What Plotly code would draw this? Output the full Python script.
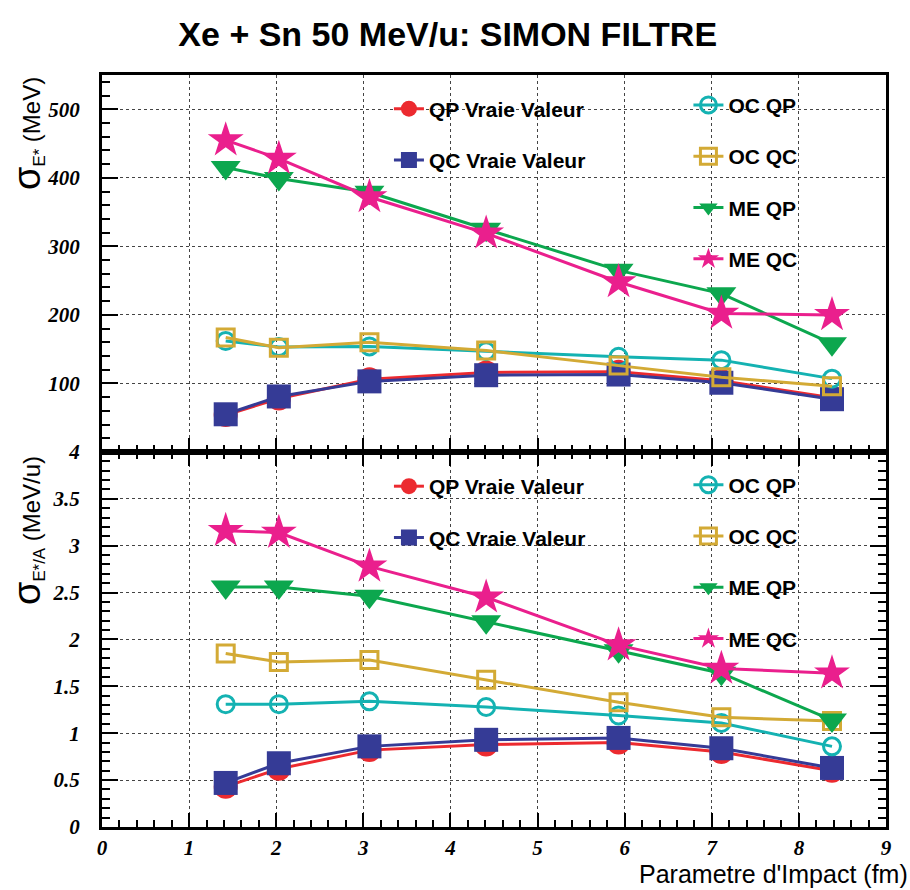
import plotly.graph_objects as go
from plotly.subplots import make_subplots

# impact parameter (fm)
b = [1.42, 2.03, 3.07, 4.41, 5.93, 7.11, 8.38]

# sigma E* (MeV)
qp_top = [54, 78, 106, 116, 117, 104, 79]
qc_top = [55, 81, 103, 112, 113, 101, 77]
ocqp_top = [162, 153, 154, 147, 139, 134, 107]
ocqc_top = [167, 152, 160, 148, 126, 109, 96]
meqp_top = [415, 399, 379, 325, 265, 231, 158]
meqc_top = [455, 428, 372, 319, 248, 202, 200]

# sigma E*/A (MeV/u)
qp_bot = [0.43, 0.62, 0.82, 0.88, 0.90, 0.80, 0.60]
qc_bot = [0.47, 0.68, 0.86, 0.93, 0.95, 0.84, 0.63]
ocqp_bot = [1.31, 1.31, 1.34, 1.28, 1.19, 1.11, 0.86]
ocqc_bot = [1.85, 1.76, 1.78, 1.57, 1.33, 1.17, 1.13]
meqp_bot = [2.56, 2.56, 2.46, 2.19, 1.88, 1.64, 1.14]
meqc_bot = [3.16, 3.14, 2.78, 2.45, 1.94, 1.69, 1.64]

names = ['QP Vraie Valeur', 'QC Vraie Valeur', 'OC QP', 'OC QC', 'ME QP', 'ME QC']
colors = ['#ec2a2f', '#353b96', '#14b2b2', '#d3aa35', '#0ca74e', '#ea1f8d']
symbols = ['circle', 'square', 'circle-open', 'square-open', 'triangle-down', 'star']
sizes = [24, 24, 17, 17, 26, 27]

fig = make_subplots(rows=2, cols=1, shared_xaxes=True, vertical_spacing=0)

def addSeries(row, series, legends):
    for i, ys in enumerate(series):
        fig.add_trace(
            go.Scatter(
                x=b, y=ys,
                mode='lines+markers',
                name=names[i],
                line=dict(color=colors[i], width=3),
                marker=dict(
                    symbol=symbols[i],
                    size=sizes[i],
                    color=colors[i],
                    line=dict(width=3 if 'open' in symbols[i] else 0, color=colors[i])
                ),
                legend=legends[0] if i < 2 else legends[1],
                legendgroup=f'{row}_{i}',
            ),
            row=row, col=1
        )

addSeries(1, [qp_top, qc_top, ocqp_top, ocqc_top, meqp_top, meqc_top], ['legend', 'legend2'])
addSeries(2, [qp_bot, qc_bot, ocqp_bot, ocqc_bot, meqp_bot, meqc_bot], ['legend3', 'legend4'])

tickfont = dict(family='Liberation Serif', size=21, color='black', weight='bold', style='italic')
axisCommon = dict(
    showline=True, linewidth=3, linecolor='black',
    ticks='inside', tickcolor='black', tickwidth=1.5,
    showgrid=True, gridcolor='#444', gridwidth=1, griddash='dot',
    zeroline=False, tickfont=tickfont,
)

fig.update_xaxes(range=[0, 9], dtick=1, ticklen=14,
                 minor=dict(dtick=0.2, ticklen=7, ticks='inside', tickcolor='black', showgrid=False),
                 **axisCommon)
fig.update_xaxes(mirror=True, showticklabels=False, row=1, col=1)
fig.update_xaxes(mirror='ticks', ticklabelstandoff=0, row=2, col=1)

fig.update_yaxes(ticklen=16, ticklabelstandoff=15, **axisCommon)
fig.update_yaxes(range=[0, 550], tickvals=[100, 200, 300, 400, 500], mirror=True,
                 minor=dict(dtick=20, ticklen=8, ticks='inside', tickcolor='black', showgrid=False),
                 row=1, col=1)
fig.update_yaxes(range=[0, 4], dtick=0.5, mirror='ticks',
                 minor=dict(dtick=0.1, ticklen=8, ticks='inside', tickcolor='black', showgrid=False),
                 row=2, col=1)
fig.update_layout(yaxis2=dict(domain=[0, 0.4987]), yaxis=dict(domain=[0.4987, 1]))

legFont = dict(family='Liberation Sans', size=21, color='black', weight='bold')
def legendBox(x, y):
    return dict(x=x, y=y, xanchor='left', yanchor='top', bgcolor='rgba(0,0,0,0)',
                font=legFont, tracegroupgap=21, itemsizing='trace')

fig.update_layout(
    width=910, height=890,
    margin=dict(l=102, r=24, t=75, b=63),
    plot_bgcolor='white', paper_bgcolor='white',
    showlegend=True,
    legend=legendBox(0.366, 0.982),
    legend2=legendBox(0.748, 0.987),
    legend3=legendBox(0.366, 0.480),
    legend4=legendBox(0.748, 0.482),
    title=dict(
        text='Xe + Sn 50 MeV/u: SIMON FILTRE',
        font=dict(family='Liberation Sans Narrow, Liberation Sans', size=34, color='black', weight='bold'),
        x=0.492, xanchor='center', y=0.962, yanchor='middle'
    ),
)

labFont = dict(family='Liberation Sans', size=24, color='black')
fig.add_annotation(
    text="<span style='font-size:38px'>σ</span><sub>E*</sub> (MeV)",
    xref='paper', yref='paper', x=-0.095, y=1.0, xanchor='center', yanchor='top',
    textangle=-90, showarrow=False, font=labFont
)
fig.add_annotation(
    text="<span style='font-size:38px'>σ</span><sub>E*/A</sub> (MeV/u)",
    xref='paper', yref='paper', x=-0.095, y=0.496, xanchor='center', yanchor='top',
    textangle=-90, showarrow=False, font=labFont
)
fig.add_annotation(
    text="Parametre d'Impact (fm)",
    xref='paper', yref='paper', x=1.03, y=-0.041, xanchor='right', yanchor='top',
    showarrow=False, font=dict(family='Liberation Sans', size=25, color='black')
)

# page body has a default 8px margin; drop it so the figure sits at the window origin
fig.write_html("out.html", config={'displayModeBar': False},
               post_script="document.body.style.margin='0';")
